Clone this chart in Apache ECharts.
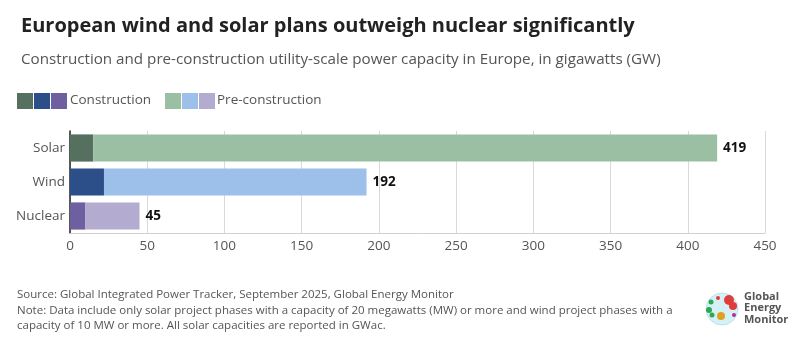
<!DOCTYPE html>
<html><head><meta charset="utf-8">
<script src="https://cdn.jsdelivr.net/npm/echarts@6/dist/echarts.min.js"></script>
<style>html,body{margin:0;padding:0;background:#fff;}#c{width:791px;height:342px;}</style>
</head><body><div id="c"></div>
<script>
const categories = ['Solar', 'Wind', 'Nuclear'];
const construction = [15, 22, 10];
const preConstruction = [404, 170, 35];
const totals = [419, 192, 45];
const xTicks = [0, 50, 100, 150, 200, 250, 300, 350, 400, 450];

const conColors = ['#56705f', '#2c4f89', '#6d5fa0'];
const preColors = ['#9bbfa2', '#9cc0ea', '#b3acd0'];
const FONT = '"Open Sans", sans-serif';

const chart = echarts.init(document.getElementById('c'), null, {renderer: 'canvas'});
const legendY = 93;
const sq = 16;
chart.setOption({
  animation: false,
  textStyle: {fontFamily: FONT},
  title: [
    {text: 'European wind and solar plans outweigh nuclear significantly', left: 16, top: 11,
     textStyle: {fontFamily: FONT, fontSize: 20, fontWeight: 'bold', color: '#222'}},
    {text: 'Construction and pre-construction utility-scale power capacity in Europe, in gigawatts (GW)', left: 16, top: 47,
     textStyle: {fontFamily: FONT, fontSize: 15.2, fontWeight: 'normal', color: '#555'}}
  ],
  grid: {left: 70, right: 26, top: 131, bottom: 109, containLabel: false},
  xAxis: {
    type: 'value', min: 0, max: 450, interval: 50,
    axisLine: {show: true, lineStyle: {color: '#d0d0d0'}},
    axisTick: {show: false},
    axisLabel: {color: '#555', fontSize: 13.5, fontFamily: FONT, margin: 6},
    splitLine: {show: true, lineStyle: {color: '#d9d9d9'}}
  },
  yAxis: {
    type: 'category', data: categories, inverse: true,
    axisLine: {show: true, lineStyle: {color: '#222', width: 1.5}},
    axisTick: {show: false},
    axisLabel: {color: '#555', fontSize: 13.5, fontFamily: FONT, margin: 5}
  },
  series: [
    {name: 'Construction', type: 'bar', stack: 't', barCategoryGap: '20%',
     data: construction.map((v, i) => ({value: v, itemStyle: {color: conColors[i]}}))},
    {name: 'Pre-construction', type: 'bar', stack: 't', barCategoryGap: '20%',
     data: preConstruction.map((v, i) => ({value: v, itemStyle: {color: preColors[i]}})),
     label: {show: true, position: 'right', distance: 6,
       formatter: p => totals[p.dataIndex],
       fontFamily: FONT, fontSize: 13.5, fontWeight: 'bold', color: '#111'}}
  ],
  graphic: [
    ...conColors.map((c, i) => ({type: 'rect', shape: {x: 17 + i * 17, y: legendY, width: sq, height: sq}, style: {fill: c}})),
    {type: 'text', left: 70, top: legendY, style: {text: 'Construction', fill: '#555', font: '13.5px ' + FONT}},
    ...preColors.map((c, i) => ({type: 'rect', shape: {x: 165 + i * 17, y: legendY, width: sq, height: sq}, style: {fill: c}})),
    {type: 'text', left: 217, top: legendY, style: {text: 'Pre-construction', fill: '#555', font: '13.5px ' + FONT}},
    {type: 'text', left: 17, top: 289, style: {text: 'Source: Global Integrated Power Tracker, September 2025, Global Energy Monitor', fill: '#555', font: '11.5px ' + FONT}},
    {type: 'text', left: 17, top: 305, style: {text: 'Note: Data include only solar project phases with a capacity of 20 megawatts (MW) or more and wind project phases with a', fill: '#555', font: '11.5px ' + FONT}},
    {type: 'text', left: 17, top: 320, style: {text: 'capacity of 10 MW or more. All solar capacities are reported in GWac.', fill: '#555', font: '11.5px ' + FONT}},
    // logo
    {type: 'circle', shape: {cx: 722, cy: 309, r: 16}, style: {fill: '#d6f0f7', stroke: '#b8e2ee', lineWidth: 1}},
    {type: 'circle', shape: {cx: 729, cy: 300, r: 5}, style: {fill: '#e03c3c'}},
    {type: 'circle', shape: {cx: 733, cy: 306, r: 4}, style: {fill: '#e03c3c'}},
    {type: 'circle', shape: {cx: 718, cy: 298, r: 2}, style: {fill: '#e03c3c'}},
    {type: 'circle', shape: {cx: 711, cy: 302, r: 2.5}, style: {fill: '#2fa84f'}},
    {type: 'circle', shape: {cx: 709, cy: 310, r: 3}, style: {fill: '#2fa84f'}},
    {type: 'circle', shape: {cx: 712, cy: 315, r: 2.5}, style: {fill: '#2fa84f'}},
    {type: 'circle', shape: {cx: 721, cy: 316, r: 4}, style: {fill: '#e0a020'}},
    {type: 'circle', shape: {cx: 734, cy: 315, r: 2}, style: {fill: '#b03090'}},
    {type: 'text', left: 744, top: 291, style: {text: 'Global\nEnergy\nMonitor', fill: '#555', font: 'bold 11px ' + FONT, lineHeight: 11.5}}
  ]
});
</script></body></html>
